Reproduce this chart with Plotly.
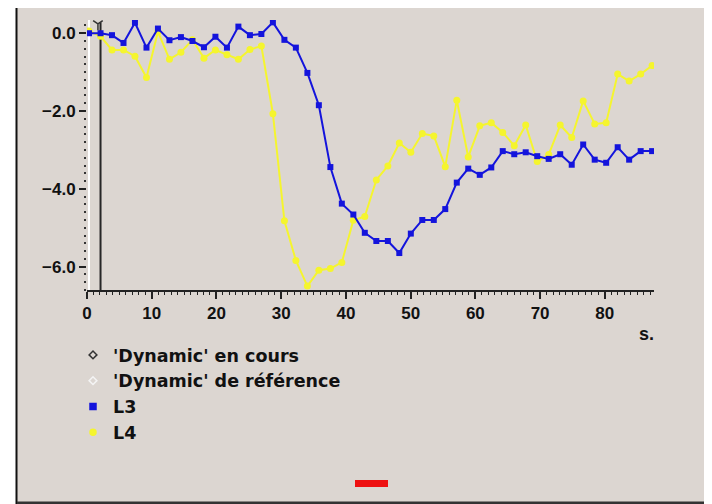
import plotly.graph_objects as go

# time samples (s)
times = [0.31, 2.09, 3.86, 5.64, 7.41, 9.19, 10.96, 12.74, 14.51, 16.29,
         18.07, 19.84, 21.62, 23.39, 25.17, 26.94, 28.72, 30.50, 32.27, 34.05,
         35.82, 37.60, 39.37, 41.15, 42.92, 44.70, 46.48, 48.25, 50.03, 51.80,
         53.58, 55.35, 57.13, 58.90, 60.68, 62.46, 64.23, 66.01, 67.78, 69.56,
         71.33, 73.11, 74.89, 76.66, 78.44, 80.21, 81.99, 83.76, 85.54, 87.31]

l3 = [0.0, 0.0, -0.05, -0.25, 0.27, -0.37, 0.12, -0.18, -0.10, -0.20,
      -0.36, -0.09, -0.37, 0.17, -0.05, -0.02, 0.28, -0.17, -0.37, -1.02,
      -1.85, -3.44, -4.38, -4.66, -5.13, -5.34, -5.34, -5.65, -5.15, -4.80,
      -4.80, -4.52, -3.84, -3.48, -3.64, -3.45, -3.03, -3.11, -3.06, -3.16,
      -3.23, -3.11, -3.38, -2.86, -3.25, -3.33, -2.93, -3.25, -3.03, -3.03]

l4 = [0.06, -0.08, -0.43, -0.43, -0.59, -1.14, 0.04, -0.67, -0.49, -0.17,
      -0.64, -0.43, -0.55, -0.67, -0.42, -0.33, -2.07, -4.82, -5.84, -6.50,
      -6.09, -6.05, -5.89, -4.81, -4.71, -3.77, -3.41, -2.82, -3.06, -2.58,
      -2.64, -3.43, -1.72, -3.18, -2.38, -2.30, -2.55, -2.89, -2.36, -3.30,
      -3.12, -2.36, -2.68, -1.74, -2.33, -2.30, -1.05, -1.23, -1.05, -0.83]

cursor_current = 2.09     # 'Dynamic' en cours
cursor_reference = 0.31   # 'Dynamic' de référence

x_ticks = [0, 10, 20, 30, 40, 50, 60, 70, 80]
x_ticklabels = ["0", "10", "20", "30", "40", "50", "60", "70", "80"]
y_ticks = [0.0, -2.0, -4.0, -6.0]
y_ticklabels = ["0.0", "\u22122.0", "\u22124.0", "\u22126.0"]

X_RANGE = [0, 87.6]
Y_RANGE = [-6.6, 0.34]

BG = "#DCD6D1"
BLUE = "#1414DC"
YELLOW = "#F5F52E"
DARK = "#333333"
TICKFONT = dict(family="Liberation Sans, Arial, sans-serif", size=17, color="#111111")
LEGFONT = dict(family="DejaVu Sans, Verdana, sans-serif", size=17.5, color="#111111")

def bold(s):
    return "<b>" + s + "</b>"

fig = go.Figure()

# reference cursor (white) and current cursor (dark)
fig.add_trace(go.Scatter(x=[cursor_reference, cursor_reference], y=Y_RANGE,
                         mode="lines", line=dict(color="white", width=2),
                         showlegend=False, hoverinfo="skip"))
fig.add_trace(go.Scatter(x=[cursor_current, cursor_current], y=[Y_RANGE[0], 0.28],
                         mode="lines", line=dict(color="#262626", width=2),
                         showlegend=False, hoverinfo="skip"))
fig.add_trace(go.Scatter(x=[cursor_current - 0.4], y=[0.24], mode="markers",
                         marker=dict(symbol="y-down-open", size=8, color=DARK,
                                     line=dict(color=DARK, width=1.5)),
                         showlegend=False, hoverinfo="skip"))

fig.add_trace(go.Scatter(x=times, y=l4, mode="lines+markers", name="L4",
                         line=dict(color=YELLOW, width=2),
                         marker=dict(symbol="circle", size=7, color=YELLOW),
                         showlegend=False))
fig.add_trace(go.Scatter(x=times, y=l3, mode="lines+markers", name="L3",
                         line=dict(color=BLUE, width=2),
                         marker=dict(symbol="square", size=6, color=BLUE),
                         showlegend=False))

# legend entries
legend_items = [("'Dynamic' en cours", "diamond-open", DARK, 6),
                ("'Dynamic' de référence", "diamond-open", "#F4F4F4", 6),
                ("L3", "square", BLUE, 6),
                ("L4", "circle", YELLOW, 6)]
for name, sym, col, sz in legend_items:
    fig.add_trace(go.Scatter(x=[None], y=[None], mode="markers", name=bold(name),
                             marker=dict(symbol=sym, size=sz, color=col,
                                         line=dict(color=col, width=1.5))))

# page-pixel -> paper helpers (page has an 8px body margin)
px_w = 567
px_h = 270

def pxx(p):
    return (p - 87) / px_w

def pxy(q):
    return (290 - q) / px_h

shapes = [
    dict(type="rect", xref="paper", yref="paper", x0=pxx(17), x1=pxx(730),
         y0=pxy(520), y1=pxy(8), fillcolor=BG, line=dict(width=0), layer="below"),
    dict(type="line", xref="paper", yref="paper", x0=pxx(16.5), x1=pxx(16.5),
         y0=pxy(520), y1=pxy(8), line=dict(color="#111111", width=2), layer="below"),
    dict(type="line", xref="paper", yref="paper", x0=pxx(17), x1=pxx(730),
         y0=pxy(503), y1=pxy(503), line=dict(color="#333333", width=3), layer="below"),
    dict(type="rect", xref="paper", yref="paper", x0=pxx(355), x1=pxx(388),
         y0=pxy(487), y1=pxy(480), fillcolor="#EE1111", line=dict(width=0)),
]

fig.update_layout(
    width=712, height=504,
    margin=dict(l=79, r=66, t=12, b=222, pad=0, autoexpand=False),
    paper_bgcolor="white",
    plot_bgcolor="rgba(0,0,0,0)",
    shapes=shapes,
    showlegend=True,
    legend=dict(x=pxx(73), y=pxy(337), xanchor="left", yanchor="top",
                font=LEGFONT, bgcolor="rgba(0,0,0,0)", itemwidth=30,
                tracegroupgap=0),
    annotations=[dict(text="<b>s.</b>", xref="paper", yref="paper",
                      x=pxx(646), y=pxy(334), xanchor="center", yanchor="middle",
                      showarrow=False,
                      font=dict(family="Liberation Sans, Arial, sans-serif",
                                size=18, color="#111111"))],
    xaxis=dict(range=X_RANGE, showgrid=False, zeroline=False, showline=True,
               linecolor="#222222", linewidth=1.5, ticks="outside", ticklen=7,
               tickwidth=1.5, tickcolor="#222222", tickvals=x_ticks,
               ticktext=[bold(t) for t in x_ticklabels], tickfont=TICKFONT,
               minor=dict(dtick=1, ticks="outside", ticklen=3, tickcolor="#222222",
                          tickwidth=1)),
    yaxis=dict(range=Y_RANGE, showgrid=False, zeroline=False, showline=False,
               ticks="outside", ticklen=7, tickwidth=1.5, tickcolor="#222222",
               tickvals=y_ticks, ticktext=[bold(t) for t in y_ticklabels],
               tickfont=TICKFONT,
               minor=dict(dtick=0.2, tick0=0, ticks="outside", ticklen=2,
                          tickcolor="#333333", tickwidth=1.5)),
)

fig.write_html("out.html")
